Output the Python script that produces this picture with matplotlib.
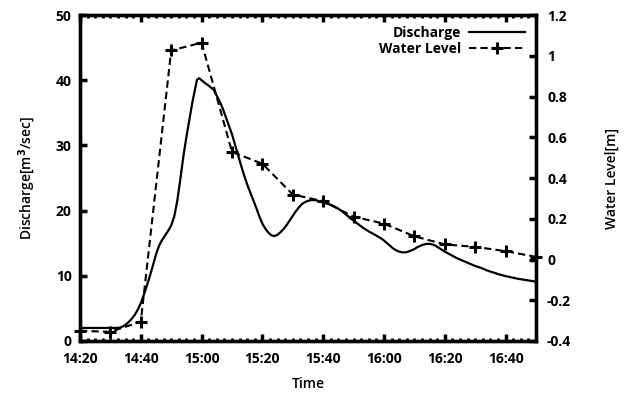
import matplotlib
matplotlib.use("Agg")
import matplotlib.pyplot as plt
from matplotlib.ticker import MultipleLocator

plt.rcParams['font.family'] = ['Open Sans', 'DejaVu Sans']
plt.rcParams['font.weight'] = 'bold'
plt.rcParams['axes.labelweight'] = 'semibold'

# Discharge (minutes after 14:20, m^3/sec)
q_time = [0, 4, 8, 12, 13, 14, 15, 16, 17, 18, 19, 20, 21, 22, 23, 24, 25, 26, 27,
          28, 29, 30, 31, 32, 33, 34, 35, 36, 37, 38, 38.5, 39.2, 40, 41, 42.5, 44,
          45, 46, 47, 48, 49, 50, 51, 52, 53, 54, 55, 56, 57, 58, 59, 60, 61, 62,
          63, 64, 65, 66, 67, 68, 69, 70, 71, 72, 73, 74, 75, 76, 77.5, 79, 81,
          83, 85, 87, 89, 91, 93, 95, 97, 99, 100, 101, 102, 103, 104, 105, 106,
          107, 108, 109, 110, 111, 112, 113, 114, 115, 116, 117, 118, 119, 120,
          122, 124, 126, 128, 130, 132, 134, 136, 138, 140, 142, 144, 146, 148, 150]
q_vals = [2.0, 2.0, 2.0, 2.0, 2.05, 2.2, 2.5, 2.9, 3.4, 4.0, 4.8, 5.8, 7.1, 8.5,
          10.0, 11.6, 13.3, 14.6, 15.5, 16.2, 16.9, 17.7, 19.1, 21.5, 24.8, 28.3,
          31.3, 34.0, 36.7, 39.0, 40.1, 40.3, 40.0, 39.6, 39.1, 38.5,
          37.6, 36.7, 35.6, 34.3, 33.0, 31.7, 30.1, 28.5, 26.9, 25.4, 24.0, 22.8,
          21.6, 20.4, 19.1, 18.0, 17.2, 16.6, 16.2, 16.1, 16.3, 16.7, 17.2, 17.8,
          18.5, 19.2, 19.9, 20.5, 21.0, 21.3, 21.5, 21.6, 21.6, 21.4, 21.1,
          20.8, 20.3, 19.6, 18.8, 18.1, 17.4, 16.8, 16.3, 15.75, 15.4, 15.0, 14.6,
          14.2, 13.9, 13.7, 13.6, 13.6, 13.7, 13.9, 14.1, 14.4, 14.6, 14.8, 14.9,
          14.9, 14.8, 14.6, 14.3, 14.0, 13.7, 13.2, 12.7, 12.3, 11.9, 11.5, 11.2,
          10.8, 10.5, 10.2, 9.95, 9.75, 9.55, 9.4, 9.25, 9.1]

# Water level (every 10 minutes from 14:20, m)
wl_time = [0, 10, 20, 30, 40, 50, 60, 70, 80, 90, 100, 110, 120, 130, 140, 150]
wl_vals = [-0.35, -0.355, -0.305, 1.026, 1.064, 0.528, 0.47, 0.319, 0.286, 0.21,
           0.176, 0.114, 0.074, 0.062, 0.041, 0.013]

x_ticks = [0, 20, 40, 60, 80, 100, 120, 140]
x_labels = ["14:20", "14:40", "15:00", "15:20", "15:40", "16:00", "16:20", "16:40"]
y1_ticks = [0, 10, 20, 30, 40, 50]
y2_ticks = [-0.4, -0.2, 0, 0.2, 0.4, 0.6, 0.8, 1.0, 1.2]
y2_labels = ["-0.4", "-0.2", "0", "0.2", "0.4", "0.6", "0.8", "1", "1.2"]

fig = plt.figure(figsize=(6.28, 3.95), dpi=100)
ax = fig.add_axes([80/628, 1-341/395, (536-80)/628, (341-15)/395])
ax2 = ax.twinx()

l1, = ax.plot(q_time, q_vals, color='black', lw=1.6, label='Discharge')
l2, = ax2.plot(wl_time, wl_vals, color='black', lw=1.5, ls=(0, (3.5, 2)),
               marker='+', ms=8, mew=2.2, label='Water Level', clip_on=False)

ax.set_xlim(0, 150)
ax.set_ylim(0, 50)
ax2.set_ylim(-0.4, 1.2)

ax.set_xticks(x_ticks)
ax.set_xticklabels(x_labels)
ax.xaxis.set_minor_locator(MultipleLocator(2.5))
ax.set_yticks(y1_ticks)
ax2.set_yticks(y2_ticks)
ax2.set_yticklabels(y2_labels)

fs = 10
ax.tick_params(axis='x', which='major', direction='in', length=5, width=2.5,
               top=True, labelsize=fs, pad=8)
ax.tick_params(axis='x', which='minor', direction='in', length=2.5, width=2.0, top=True)
ax.tick_params(axis='y', which='major', direction='in', length=5, width=2.5,
               right=False, labelsize=fs, pad=6)
ax2.tick_params(axis='y', which='major', direction='in', length=5, width=2.5,
                labelsize=fs, pad=8)

for a in (ax, ax2):
    for s in a.spines.values():
        s.set_linewidth(2.4)

ax.set_xlabel('Time', fontsize=fs, labelpad=8)
ax.set_ylabel('Discharge[m$^3$/sec]', fontsize=fs, labelpad=13)
ax2.set_ylabel('Water Level[m]', fontsize=fs, labelpad=24)

leg = ax2.legend([l1, l2], ['Discharge', 'Water Level'], loc='upper right',
                 frameon=False, markerfirst=False, handlelength=4,
                 fontsize=fs, labelspacing=0.15, borderaxespad=0.4,
                 handletextpad=0.6)

fig.savefig('out.png', dpi=100)
